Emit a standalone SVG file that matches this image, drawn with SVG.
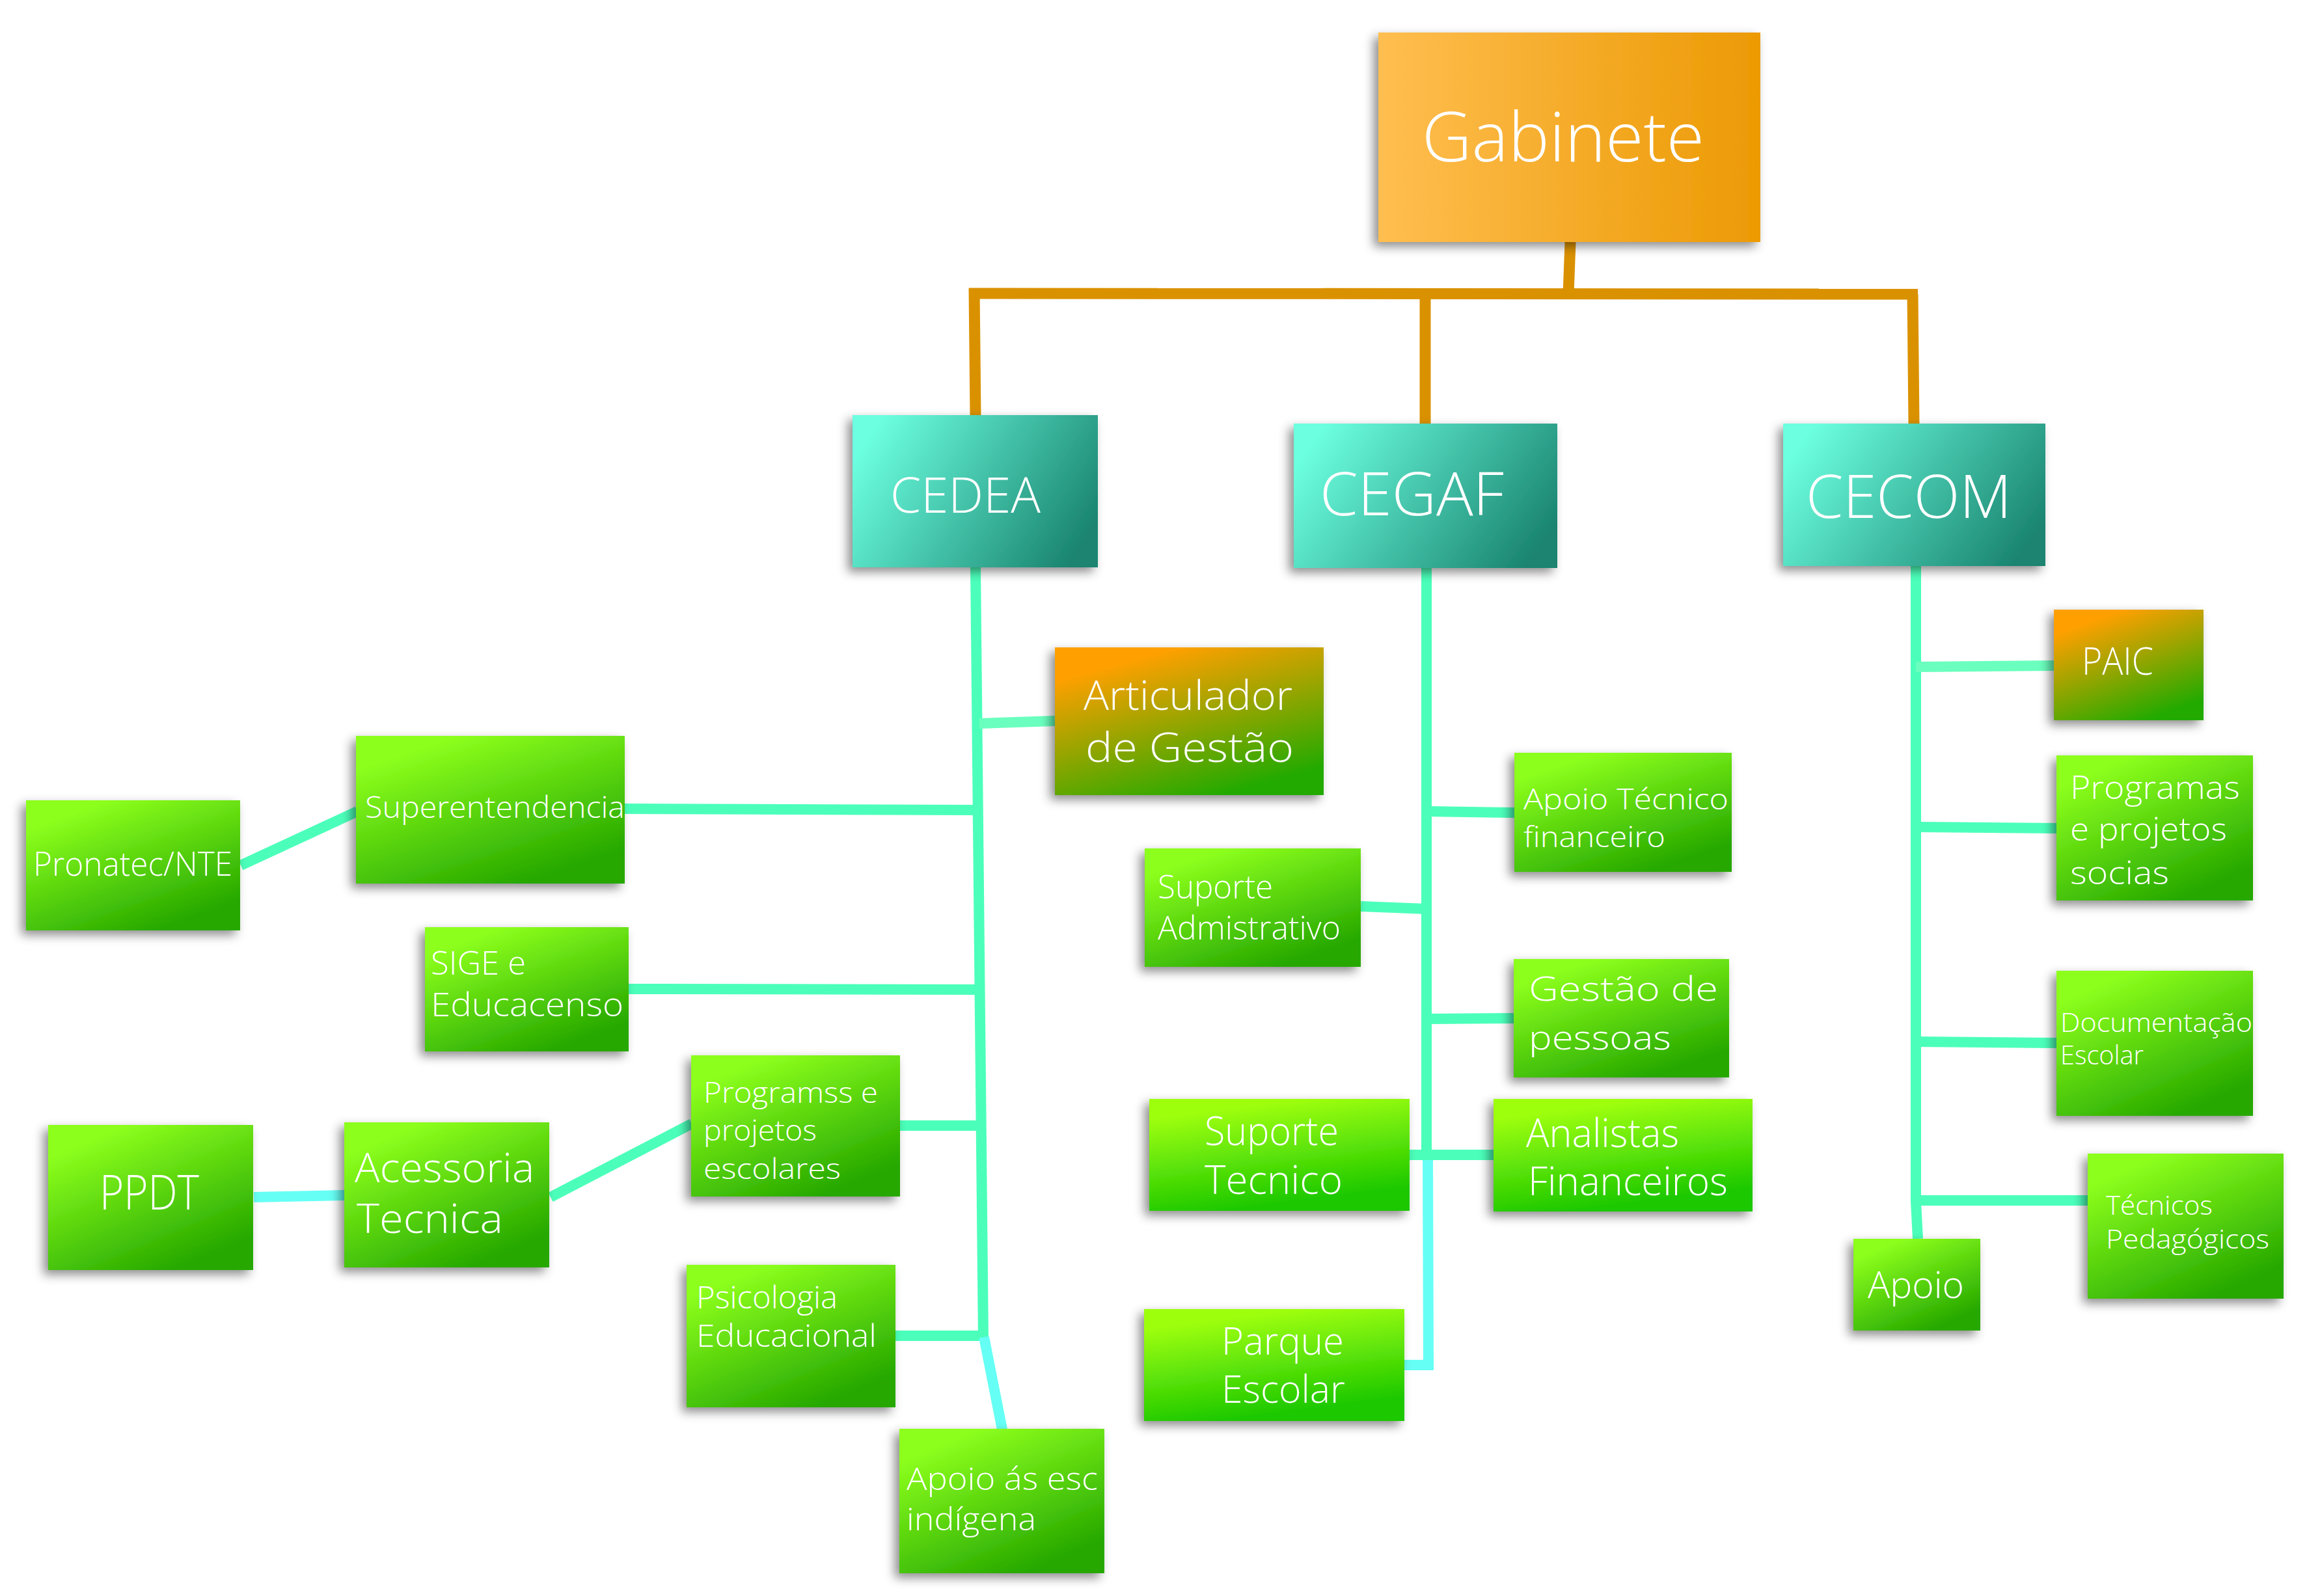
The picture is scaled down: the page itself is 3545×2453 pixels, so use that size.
<svg xmlns="http://www.w3.org/2000/svg" width="3545" height="2453" viewBox="0 0 3545 2453">
<defs>
<linearGradient id="gOrange" x1="0" y1="0" x2="1" y2="0">
<stop offset="0" stop-color="#FFBE50"/><stop offset="1" stop-color="#EC9A04"/>
</linearGradient>
<linearGradient id="gTeal" x1="0" y1="0.3" x2="1" y2="0.7">
<stop offset="0" stop-color="#6CFFE0"/><stop offset="1" stop-color="#1A8470"/>
</linearGradient>
<linearGradient id="gGreen" x1="0.2" y1="0" x2="0.8" y2="1">
<stop offset="0.08" stop-color="#8CFF1C"/><stop offset="0.92" stop-color="#26A800"/>
</linearGradient>
<linearGradient id="gGreen2" x1="0.3" y1="0" x2="0.6" y2="1">
<stop offset="0.08" stop-color="#9EFF10"/><stop offset="0.92" stop-color="#1CC800"/>
</linearGradient>
<linearGradient id="gOG" x1="0.25" y1="0" x2="0.75" y2="1">
<stop offset="0.08" stop-color="#FFA000"/><stop offset="0.95" stop-color="#22AA00"/>
</linearGradient>
<filter id="sh" x="-20%" y="-20%" width="140%" height="140%">
<feDropShadow dx="-7" dy="7" stdDeviation="8" flood-color="#000" flood-opacity="0.45"/>
</filter>
<style>
.t{font-family:"Open Sans","Liberation Sans",sans-serif;font-weight:300;fill:#fff}
.box{filter:url(#sh)}
.or{stroke:#DA9100;stroke-width:17;fill:none}
.mi{stroke:#4BFFBA;stroke-width:16;fill:none}
.mi2{stroke:#6AFFBE;stroke-width:16;fill:none}
.cy{stroke:#66FFF5;stroke-width:16;fill:none}
</style>
</defs>
<rect width="3545" height="2453" fill="#fff"/>

<g id="connectors">
<line class="or" x1="2413" y1="372" x2="2410" y2="452"/>
<line class="or" x1="1489" y1="451" x2="2947" y2="452"/>
<line class="or" x1="1497" y1="443" x2="1499" y2="640"/>
<line class="or" x1="2190" y1="452" x2="2190" y2="651"/>
<line class="or" x1="2939" y1="452" x2="2941" y2="651"/>

<line class="mi" x1="1499" y1="872" x2="1511" y2="2061"/>
<line class="mi2" x1="1505" y1="1112" x2="1621" y2="1108"/>
<line class="mi" x1="960" y1="1243" x2="1505" y2="1245"/>
<line class="mi" x1="966" y1="1520" x2="1507" y2="1521"/>
<line class="mi" x1="1383" y1="1730" x2="1509" y2="1730"/>
<line class="mi" x1="1376" y1="2053" x2="1511" y2="2053"/>
<line class="mi" x1="370" y1="1330" x2="549" y2="1247"/>
<line class="mi" x1="846" y1="1840" x2="1063" y2="1727"/>
<line class="cy" x1="390" y1="1840" x2="530" y2="1837"/>
<line class="cy" x1="1512" y1="2055" x2="1540" y2="2197"/>

<line class="mi" x1="2192" y1="873" x2="2192" y2="1783"/>
<line class="cy" x1="2194" y1="1775" x2="2195" y2="2106"/>
<line class="cy" x1="2158" y1="2098" x2="2203" y2="2098"/>
<line class="mi" x1="2192" y1="1247" x2="2327" y2="1249"/>
<line class="mi" x1="2091" y1="1393" x2="2192" y2="1397"/>
<line class="mi" x1="2192" y1="1566" x2="2326" y2="1565"/>
<line class="mi" x1="2166" y1="1775" x2="2295" y2="1775"/>

<polyline class="mi" points="2944,870 2944,1847 2947,1904"/>
<line class="mi2" x1="2944" y1="1025" x2="3156" y2="1023"/>
<line class="mi" x1="2944" y1="1271" x2="3160" y2="1273"/>
<line class="mi" x1="2944" y1="1601" x2="3160" y2="1603"/>
<line class="mi" x1="2944" y1="1845" x2="3208" y2="1845"/>
</g>

<g id="gabinete">
<rect class="box" x="2118" y="50" width="587" height="322" fill="url(#gOrange)"/>
<text class="t" x="2185" y="248" font-size="105" textLength="434" lengthAdjust="spacingAndGlyphs">Gabinete</text>
</g>

<g id="cedea">
<rect class="box" x="1310" y="638" width="377" height="234" fill="url(#gTeal)"/>
<text class="t" x="1368" y="788" font-size="75" textLength="231" lengthAdjust="spacingAndGlyphs">CEDEA</text>
</g>
<g id="cegaf">
<rect class="box" x="1988" y="651" width="405" height="222" fill="url(#gTeal)"/>
<text class="t" x="2028" y="792" font-size="93" textLength="283" lengthAdjust="spacingAndGlyphs">CEGAF</text>
</g>
<g id="cecom">
<rect class="box" x="2740" y="651" width="403" height="219" fill="url(#gTeal)"/>
<text class="t" x="2775" y="796" font-size="93" textLength="316" lengthAdjust="spacingAndGlyphs">CECOM</text>
</g>

<g id="articulador">
<rect class="box" x="1621" y="995" width="413" height="227" fill="url(#gOG)"/>
<text class="t" x="1665" y="1091" font-size="62" textLength="321" lengthAdjust="spacingAndGlyphs">Articulador</text>
<text class="t" x="1668" y="1171" font-size="62" textLength="320" lengthAdjust="spacingAndGlyphs">de Gestão</text>
</g>

<g id="superentendencia">
<rect class="box" x="547" y="1131" width="413" height="227" fill="url(#gGreen)"/>
<text class="t" x="561" y="1257" font-size="46" textLength="399" lengthAdjust="spacingAndGlyphs">Superentendencia</text>
</g>
<g id="pronatec">
<rect class="box" x="40" y="1230" width="329" height="200" fill="url(#gGreen)"/>
<text class="t" x="51" y="1346" font-size="52" textLength="306" lengthAdjust="spacingAndGlyphs">Pronatec/NTE</text>
</g>
<g id="sige">
<rect class="box" x="653" y="1425" width="313" height="191" fill="url(#gGreen)"/>
<text class="t" x="662" y="1498" font-size="50" textLength="146" lengthAdjust="spacingAndGlyphs">SIGE e</text>
<text class="t" x="662" y="1562" font-size="50" textLength="296" lengthAdjust="spacingAndGlyphs">Educacenso</text>
</g>
<g id="programss">
<rect class="box" x="1062" y="1622" width="321" height="217" fill="url(#gGreen)"/>
<text class="t" x="1081" y="1695" font-size="45" textLength="268" lengthAdjust="spacingAndGlyphs">Programss e</text>
<text class="t" x="1081" y="1753" font-size="45" textLength="174" lengthAdjust="spacingAndGlyphs">projetos</text>
<text class="t" x="1081" y="1812" font-size="45" textLength="211" lengthAdjust="spacingAndGlyphs">escolares</text>
</g>
<g id="acessoria">
<rect class="box" x="529" y="1725" width="315" height="223" fill="url(#gGreen)"/>
<text class="t" x="545" y="1817" font-size="62" textLength="276" lengthAdjust="spacingAndGlyphs">Acessoria</text>
<text class="t" x="548" y="1895" font-size="62" textLength="225" lengthAdjust="spacingAndGlyphs">Tecnica</text>
</g>
<g id="ppdt">
<rect class="box" x="74" y="1729" width="315" height="223" fill="url(#gGreen)"/>
<text class="t" x="153" y="1859" font-size="73" textLength="153" lengthAdjust="spacingAndGlyphs">PPDT</text>
</g>
<g id="psicologia">
<rect class="box" x="1055" y="1944" width="321" height="219" fill="url(#gGreen)"/>
<text class="t" x="1070" y="2011" font-size="47" textLength="217" lengthAdjust="spacingAndGlyphs">Psicologia</text>
<text class="t" x="1070" y="2070" font-size="47" textLength="277" lengthAdjust="spacingAndGlyphs">Educacional</text>
</g>
<g id="apoio-indigena">
<rect class="box" x="1382" y="2196" width="315" height="222" fill="url(#gGreen)"/>
<text class="t" x="1393" y="2290" font-size="48" textLength="294" lengthAdjust="spacingAndGlyphs">Apoio ás esc</text>
<text class="t" x="1393" y="2352" font-size="48" textLength="199" lengthAdjust="spacingAndGlyphs">indígena</text>
</g>

<g id="apoio-tecnico">
<rect class="box" x="2327" y="1157" width="334" height="183" fill="url(#gGreen)"/>
<text class="t" x="2341" y="1244" font-size="45" textLength="315" lengthAdjust="spacingAndGlyphs">Apoio Técnico</text>
<text class="t" x="2341" y="1302" font-size="45" textLength="218" lengthAdjust="spacingAndGlyphs">financeiro</text>
</g>
<g id="suporte-adm">
<rect class="box" x="1759" y="1304" width="332" height="182" fill="url(#gGreen)"/>
<text class="t" x="1779" y="1381" font-size="50" textLength="177" lengthAdjust="spacingAndGlyphs">Suporte</text>
<text class="t" x="1779" y="1444" font-size="50" textLength="281" lengthAdjust="spacingAndGlyphs">Admistrativo</text>
</g>
<g id="gestao-pessoas">
<rect class="box" x="2326" y="1474" width="331" height="182" fill="url(#gGreen)"/>
<text class="t" x="2349" y="1538" font-size="52" textLength="291" lengthAdjust="spacingAndGlyphs">Gestão de</text>
<text class="t" x="2349" y="1613" font-size="52" textLength="219" lengthAdjust="spacingAndGlyphs">pessoas</text>
</g>
<g id="suporte-tecnico">
<rect class="box" x="1766" y="1689" width="400" height="172" fill="url(#gGreen2)"/>
<text class="t" x="1851" y="1760" font-size="60" textLength="206" lengthAdjust="spacingAndGlyphs">Suporte</text>
<text class="t" x="1851" y="1835" font-size="60" textLength="212" lengthAdjust="spacingAndGlyphs">Tecnico</text>
</g>
<g id="analistas">
<rect class="box" x="2295" y="1689" width="398" height="173" fill="url(#gGreen2)"/>
<text class="t" x="2345" y="1763" font-size="60" textLength="235" lengthAdjust="spacingAndGlyphs">Analistas</text>
<text class="t" x="2348" y="1837" font-size="60" textLength="307" lengthAdjust="spacingAndGlyphs">Financeiros</text>
</g>
<g id="parque">
<rect class="box" x="1758" y="2012" width="400" height="172" fill="url(#gGreen2)"/>
<text class="t" x="1877" y="2082" font-size="59" textLength="188" lengthAdjust="spacingAndGlyphs">Parque</text>
<text class="t" x="1877" y="2156" font-size="59" textLength="190" lengthAdjust="spacingAndGlyphs">Escolar</text>
</g>

<g id="paic">
<rect class="box" x="3156" y="937" width="230" height="170" fill="url(#gOG)"/>
<text class="t" x="3199" y="1037" font-size="58" textLength="110" lengthAdjust="spacingAndGlyphs">PAIC</text>
</g>
<g id="programas-sociais">
<rect class="box" x="3160" y="1161" width="302" height="223" fill="url(#gGreen)"/>
<text class="t" x="3181" y="1228" font-size="49" textLength="261" lengthAdjust="spacingAndGlyphs">Programas</text>
<text class="t" x="3181" y="1292" font-size="49" textLength="241" lengthAdjust="spacingAndGlyphs">e projetos</text>
<text class="t" x="3181" y="1359" font-size="49" textLength="152" lengthAdjust="spacingAndGlyphs">socias</text>
</g>
<g id="documentacao">
<rect class="box" x="3160" y="1492" width="302" height="223" fill="url(#gGreen)"/>
<text class="t" x="3166" y="1586" font-size="40" textLength="295" lengthAdjust="spacingAndGlyphs">Documentação</text>
<text class="t" x="3166" y="1636" font-size="40" textLength="128" lengthAdjust="spacingAndGlyphs">Escolar</text>
</g>
<g id="tecnicos">
<rect class="box" x="3208" y="1773" width="301" height="223" fill="url(#gGreen)"/>
<text class="t" x="3236" y="1867" font-size="41" textLength="164" lengthAdjust="spacingAndGlyphs">Técnicos</text>
<text class="t" x="3236" y="1919" font-size="41" textLength="251" lengthAdjust="spacingAndGlyphs">Pedagógicos</text>
</g>
<g id="apoio">
<rect class="box" x="2848" y="1904" width="195" height="141" fill="url(#gGreen)"/>
<text class="t" x="2870" y="1995" font-size="57" textLength="148" lengthAdjust="spacingAndGlyphs">Apoio</text>
</g>
</svg>
